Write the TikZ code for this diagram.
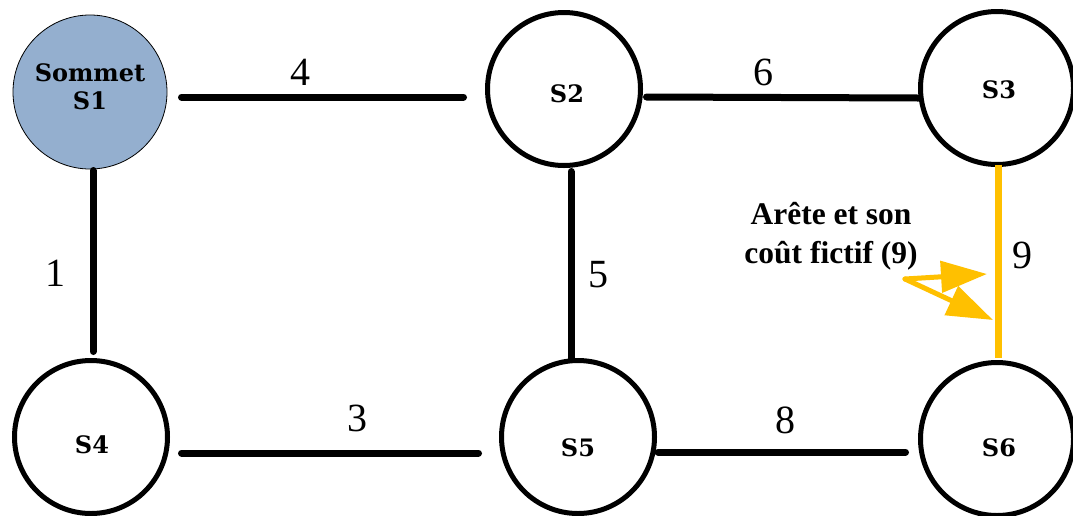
\documentclass[tikz,border=0pt]{standalone}
\usepackage{fontspec}
\setmainfont{Liberation Serif}
\newfontfamily\vertexfont{DejaVu Serif}
\usetikzlibrary{arrows.meta}
\definecolor{sone}{HTML}{94AFCF}
\definecolor{gold}{HTML}{FFC000}
\begin{document}
\begin{tikzpicture}[x=1pt,y=-1pt,
  vertex/.style={circle, draw, line width=5pt, minimum size=153pt, inner sep=0pt, outer sep=0pt},
  vlabel/.style={font=\vertexfont\bfseries\fontsize{24}{28}\selectfont, align=center, inner sep=0pt},
  edge/.style={line width=7pt, line cap=round},
  costedge/.style={line width=7pt, draw=gold},
  cost/.style={font=\fontsize{40}{40}\selectfont, inner sep=0pt},
  note/.style={font=\bfseries\fontsize{31.5}{39}\selectfont, align=center, inner sep=0pt},
  pointer/.style={line width=5pt, draw=gold, line cap=round, -{Triangle[length=46pt,width=31pt]}}]
\useasboundingbox (0,0) rectangle (1073,515);

% vertices
\node[vertex, fill=sone, line width=0.8pt, minimum size=154pt,
      label={[vlabel, yshift=5pt]center:Sommet\\S1}] (S1) at (90,92) {};
\node[vertex, label={[vlabel, xshift=3pt, yshift=-5pt]center:S2}] (S2) at (564,89) {};
\node[vertex, label={[vlabel, xshift=2pt, yshift=-2pt]center:S3}] (S3) at (997,88) {};
\node[vertex, label={[vlabel, xshift=1pt, yshift=-8pt]center:S4}] (S4) at (91,437) {};
\node[vertex, label={[vlabel, xshift=0pt, yshift=-11pt]center:S5}] (S5) at (578,437) {};
\node[vertex, label={[vlabel, xshift=2pt, yshift=-9pt]center:S6}] (S6) at (997,439) {};

% edges
\draw[edge] ([xshift=14.5pt,yshift=-5pt]S1.east) -- ([xshift=-24pt,yshift=-8pt]S2.west);
\draw[edge] ([xshift=6pt,yshift=-8pt]S2.east) -- ([xshift=-2pt,yshift=-10pt]S3.west);
\draw[edge] ([xshift=3pt,yshift=-1.5pt]S1.south) -- ([xshift=2pt,yshift=9pt]S4.north);
\draw[edge] ([xshift=7pt,yshift=-6pt]S2.south) -- ([xshift=-7pt,yshift=2pt]S5.north);
\draw[edge] ([xshift=14pt,yshift=-16pt]S4.east) -- ([xshift=-23pt,yshift=-16pt]S5.west);
\draw[edge] ([xshift=3.5pt,yshift=-15pt]S5.east) -- ([xshift=-15pt,yshift=-13pt]S6.west);
\draw[costedge] ([xshift=1pt]S3.south) -- ([xshift=1pt,yshift=5pt]S6.north);

% costs
\node[cost] (c12) at (300,72) {4};
\node[cost] (c23) at (763,72) {6};
\node[cost] (c14) at (55,273) {1};
\node[cost] (c25) at (598,275) {5};
\node[cost] (c45) at (357,418) {3};
\node[cost] (c56) at (785,420) {8};
\node[cost] (c36) at (1022,255) {9};

% annotation
\node[note] (note) at (831,236) {Arête et son\\coût fictif (9)};
\coordinate (from) at (905,279);
\coordinate (tipA) at (987,274);
\coordinate (tipB) at (993,320);
\draw[pointer] (from) -- (tipA);
\draw[pointer] (from) -- (tipB);
\end{tikzpicture}
\end{document}
